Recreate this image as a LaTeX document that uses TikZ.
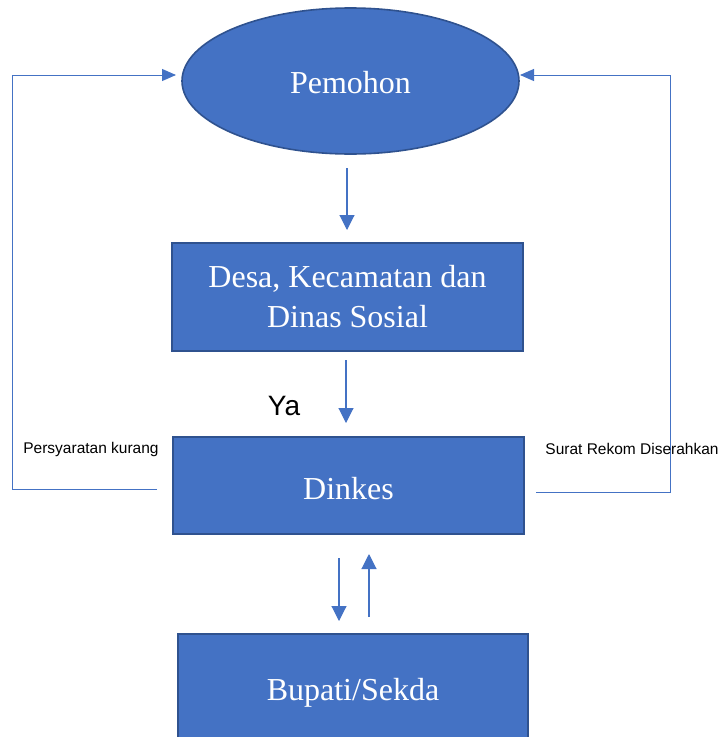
\documentclass[tikz,border=0pt]{standalone}
\usepackage{fontspec}
\setmainfont{Liberation Serif}
\newfontfamily\labelfont{Liberation Sans}
\usetikzlibrary{shapes.geometric,arrows.meta}
\definecolor{boxfill}{HTML}{4472C4}
\definecolor{boxedge}{HTML}{2F528F}
\definecolor{linec}{HTML}{4472C4}
\newcommand{\lowtext}[2]{\raisebox{-#1}[\height][\depth]{#2}}
\tikzset{
  procbox/.style={draw=boxedge, line width=1.6pt, fill=boxfill, text=white,
    inner sep=0pt, font=\fontsize{32}{37}\selectfont, align=center},
  conn/.style={draw=linec, line width=1.1pt, -{Triangle[width=15pt,length=15pt]}},
  loopline/.style={draw=linec, line width=1pt, -{Triangle[width=12pt,length=14pt]}},
  lbl/.style={font=\labelfont\fontsize{15.5}{18}\selectfont, inner sep=0pt},
}
\begin{document}
\begin{tikzpicture}[x=1pt,y=-1pt]
\useasboundingbox (0,0) rectangle (724,737);
\node[procbox, ellipse, minimum width=337pt, minimum height=146pt] (pem) at (350.5,81) {\lowtext{2pt}{Pemohon}};
\node[procbox, minimum width=351pt, minimum height=108pt] (desa) at (347.5,297) {\lowtext{3pt}{\begin{tabular}{@{}c@{}}Desa, Kecamatan dan\\[3pt]Dinas Sosial\end{tabular}}};
\node[procbox, minimum width=351pt, minimum height=97pt] (dinkes) at (348.5,485.5) {\lowtext{3pt}{Dinkes}};
\node[procbox, minimum width=350pt, minimum height=111pt] (bupati) at (353,689.5) {\lowtext{3pt}{Bupati/Sekda}};

\coordinate (a1s) at (347,168);
\coordinate (a1e) at (347,230);
\coordinate (a2s) at (346,360);
\coordinate (a2e) at (346,423);
\coordinate (a3s) at (339,558);
\coordinate (a3e) at (339,621);
\coordinate (a4s) at (369,617);
\coordinate (a4e) at (369,554);
\coordinate (ls) at (157,489);
\coordinate (lc1) at (12,489);
\coordinate (lc2) at (12,75);
\coordinate (le) at (176,75);
\coordinate (rs) at (536,492);
\coordinate (rc1) at (670,492);
\coordinate (rc2) at (670,75);
\coordinate (re) at (520,75);

\draw[conn] (a1s) -- (a1e);
\draw[conn] (a2s) -- (a2e);
\draw[conn] (a3s) -- (a3e);
\draw[conn] (a4s) -- (a4e);
\draw[loopline] (ls) -- (lc1) -- (lc2) -- (le);
\draw[loopline] (rs) -- (rc1) -- (rc2) -- (re);

\node[font=\labelfont\fontsize{28}{32}\selectfont, inner sep=0pt] (ya) at (284,406) {Ya};
\node[lbl] (pk) at (91,449) {Persyaratan kurang};
\node[lbl] (srd) at (632,449) {Surat Rekom Diserahkan};
\end{tikzpicture}
\end{document}
